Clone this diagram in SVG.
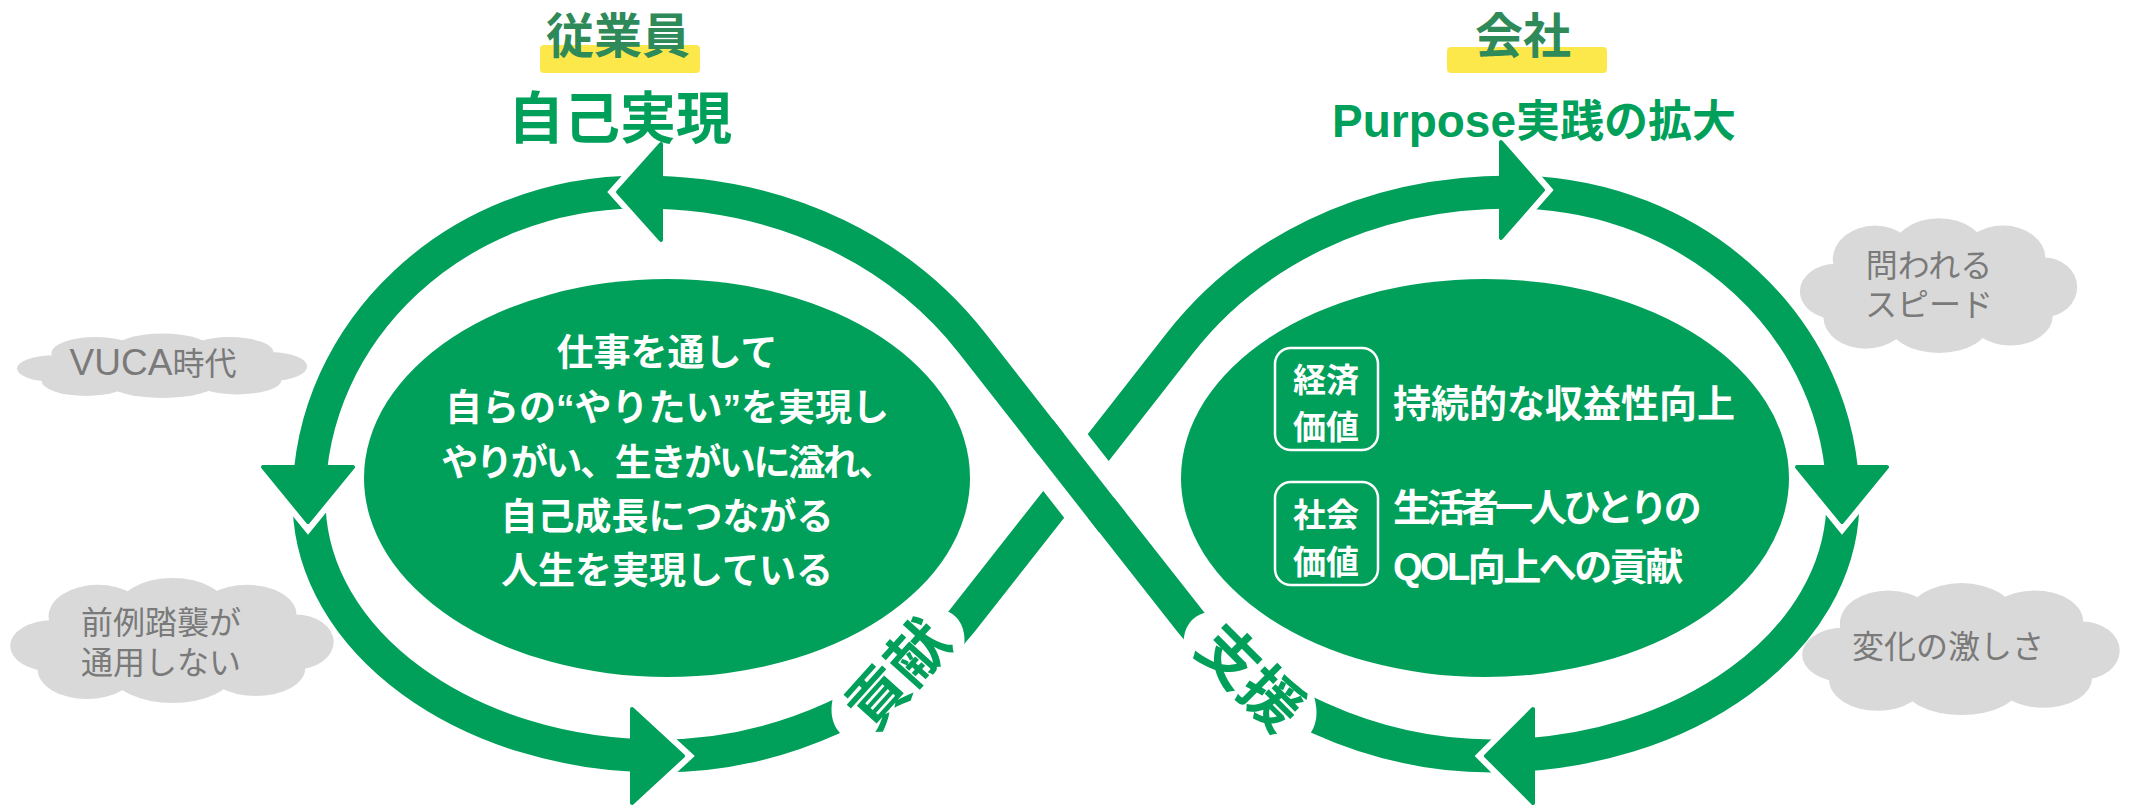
<svg xmlns="http://www.w3.org/2000/svg" xmlns:xlink="http://www.w3.org/1999/xlink" width="2142" height="812" viewBox="0 0 2142 812">
<style>
.band{fill:none;stroke:#00a05a;stroke-width:33}
.gap{fill:none;stroke:#ffffff}
.arrow{fill:#00a05a;stroke:#00a05a;stroke-width:4;stroke-linejoin:round}
.notch{fill:none;stroke:#ffffff;stroke-width:16;stroke-linejoin:miter}
.jp{font-family:"Liberation Sans","Noto Sans CJK JP",sans-serif}
.cloudtxt{font-size:32px;fill:#7a7a7a;text-anchor:middle}
.body{font-size:37px;fill:#ffffff;text-anchor:middle;font-weight:bold}
.rt{font-size:38px;fill:#ffffff;font-weight:bold}
.box{fill:none;stroke:#ffffff;stroke-width:2.5}
.boxtxt{font-size:33px;fill:#ffffff;text-anchor:middle;font-weight:bold}
.head{font-size:48px;fill:#2f8a5a;text-anchor:middle;font-weight:bold}
.big{fill:#00a05a;text-anchor:middle;font-weight:bold}
.hl{fill:#fde84b}
.cloud{fill:#d9d9d9}
.lbl{font-size:60px;fill:#00a05a;text-anchor:middle;font-weight:bold}
</style>
<defs>
<symbol id="cloud" viewBox="0 0 300 130" preserveAspectRatio="none">
<ellipse class="cloud" cx="150" cy="65" rx="125" ry="40"/>
<ellipse class="cloud" cx="82" cy="42" rx="45" ry="32"/>
<ellipse class="cloud" cx="150" cy="35" rx="50" ry="32"/>
<ellipse class="cloud" cx="218" cy="40" rx="45" ry="30"/>
<ellipse class="cloud" cx="262" cy="68" rx="35" ry="28"/>
<ellipse class="cloud" cx="40" cy="72" rx="38" ry="26"/>
<ellipse class="cloud" cx="72" cy="96" rx="45" ry="30"/>
<ellipse class="cloud" cx="150" cy="100" rx="55" ry="30"/>
<ellipse class="cloud" cx="226" cy="95" rx="45" ry="28"/>
</symbol>
</defs>

<g id="titles">
<rect class="hl" x="540" y="45" width="160" height="28" rx="4"/>
<text class="jp head" x="618" y="53">従業員</text>
<text class="jp big" x="620" y="138" font-size="56">自己実現</text>
<rect class="hl" x="1447" y="47" width="160" height="26" rx="4"/>
<text class="jp head" x="1523" y="53">会社</text>
<text class="jp big" x="1534" y="137" font-size="44"><tspan font-size="46">Purpose</tspan>実践の拡大</text>
</g>

<g id="cloud-vuca">
<use xlink:href="#cloud" x="15" y="332" width="295" height="66"/>
<text class="jp cloudtxt" x="153" y="375"><tspan font-size="37">VUCA</tspan>時代</text>
</g>
<g id="cloud-zenrei">
<use xlink:href="#cloud" x="8" y="575" width="329" height="128"/>
<text class="jp cloudtxt" x="161" y="634">前例踏襲が</text>
<text class="jp cloudtxt" x="161" y="674">通用しない</text>
</g>
<g id="cloud-speed">
<use xlink:href="#cloud" x="1798" y="215" width="282" height="138"/>
<text class="jp cloudtxt" x="1929" y="277">問われる</text>
<text class="jp cloudtxt" x="1929" y="316">スピード</text>
</g>
<g id="cloud-change">
<use xlink:href="#cloud" x="1800" y="580" width="323" height="135"/>
<text class="jp cloudtxt" x="1948" y="658">変化の激しさ</text>
</g>

<g id="employee">
<ellipse cx="667" cy="478" rx="303" ry="199" fill="#00a05a"/>
<text class="jp body" x="667" y="366">仕事を通して</text>
<text class="jp body" x="667" y="421">自らの“やりたい”を実現し</text>
<text class="jp body" x="667" y="476" letter-spacing="-2.3">やりがい、生きがいに溢れ、</text>
<text class="jp body" x="667" y="530">自己成長につながる</text>
<text class="jp body" x="667" y="584">人生を実現している</text>
</g>

<g id="company">
<ellipse cx="1485" cy="478" rx="304" ry="199" fill="#00a05a"/>
<rect class="box" x="1275" y="348" width="103" height="102" rx="16"/>
<text class="jp boxtxt" x="1326" y="392">経済</text>
<text class="jp boxtxt" x="1326" y="439">価値</text>
<text class="jp rt" x="1393" y="417">持続的な収益性向上</text>
<rect class="box" x="1275" y="482" width="103" height="103" rx="16"/>
<text class="jp boxtxt" x="1326" y="527">社会</text>
<text class="jp boxtxt" x="1326" y="574">価値</text>
<text class="jp rt" x="1393" y="521" letter-spacing="-4">生活者一人ひとりの</text>
<text class="jp rt" x="1393" y="580" letter-spacing="-2.5">QOL向上への貢献</text>
</g>

<g id="connectors">
<path id="loopL" class="band" d="M1076,476 L972,343 C904,256 790,192 640,192 C457,192 309,330 309,500 C309,641 466,756 660,756 C780,756 900,700 962,621 Z"/>
<path id="loopR" class="band" transform="translate(2152,0) scale(-1,1)" d="M1076,476 L972,343 C904,256 790,192 640,192 C457,192 309,330 309,500 C309,641 466,756 660,756 C780,756 900,700 962,621 Z"/>
<path class="gap" stroke-width="70" d="M1051,444 L1101,508"/>
<path class="band" d="M1040,430 L1112,522"/>
<ellipse cx="898" cy="675" rx="82" ry="46" fill="#ffffff" transform="rotate(-45 898 675)"/>
<ellipse cx="1250" cy="678" rx="82" ry="46" fill="#ffffff" transform="rotate(45 1250 678)"/>
<polyline class="notch" points="661,144 618,192 661,240"/>
<polygon class="arrow" points="661,144 618,192 661,240"/>
<polyline class="notch" points="263,467 308,522 353,467"/>
<polygon class="arrow" points="263,467 308,522 353,467"/>
<polyline class="notch" points="632,709 683,756 632,803"/>
<polygon class="arrow" points="632,709 683,756 632,803"/>
<polyline class="notch" points="1501,142 1543,190 1501,238"/>
<polygon class="arrow" points="1501,142 1543,190 1501,238"/>
<polyline class="notch" points="1797,467 1842,522 1887,467"/>
<polygon class="arrow" points="1797,467 1842,522 1887,467"/>
<polyline class="notch" points="1533,709 1486,756 1533,803"/>
<polygon class="arrow" points="1533,709 1486,756 1533,803"/>
</g>

<g id="label-koken">
<text class="jp lbl" x="0" y="0" transform="translate(898,675) rotate(-48)" dy="21">貢献</text>
</g>
<g id="label-shien">
<text class="jp lbl" x="0" y="0" transform="translate(1250,678) rotate(45)" dy="21">支援</text>
</g>
</svg>
